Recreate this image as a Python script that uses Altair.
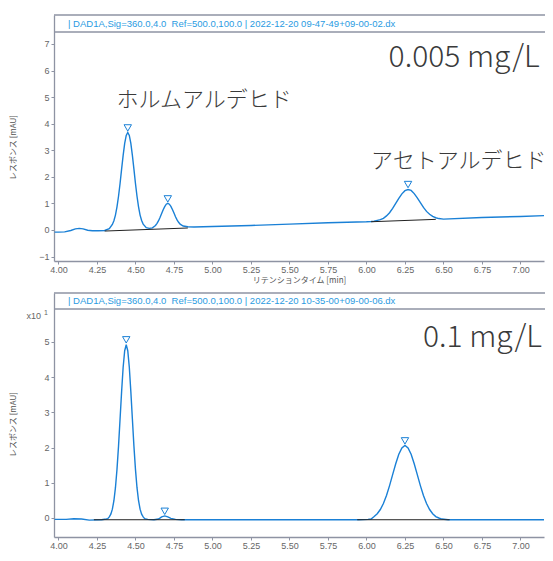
import altair as alt
import pandas as pd

# ---------------- data ----------------
top_t = [3.975, 4.00, 4.04, 4.08, 4.11, 4.135, 4.16, 4.19, 4.22, 4.26, 4.30,
         4.33, 4.35, 4.36, 4.37, 4.38, 4.39, 4.40, 4.41, 4.42, 4.43, 4.44, 4.45,
         4.46, 4.47, 4.48, 4.49, 4.50, 4.51, 4.52, 4.53, 4.54, 4.55, 4.57, 4.59,
         4.61, 4.63, 4.64, 4.65, 4.66, 4.67, 4.68, 4.69, 4.70, 4.71, 4.72, 4.73,
         4.74, 4.75, 4.76, 4.77, 4.78, 4.79, 4.81, 4.84, 4.88, 5.00, 5.25, 5.50,
         5.75, 6.00, 6.03, 6.05, 6.07, 6.09, 6.11, 6.13, 6.15, 6.17, 6.19, 6.21,
         6.23, 6.25, 6.27, 6.29, 6.31, 6.33, 6.35, 6.37, 6.39, 6.41, 6.43, 6.45,
         6.47, 6.50, 6.75, 7.00, 7.20]
top_v = [-0.08, -0.08, -0.07, -0.02, 0.04, 0.06, 0.04, -0.01, -0.03, -0.03, -0.02,
         0.05, 0.21, 0.35, 0.56, 0.87, 1.27, 1.75, 2.29, 2.81, 3.26, 3.56, 3.67,
         3.56, 3.26, 2.81, 2.29, 1.75, 1.27, 0.87, 0.56, 0.36, 0.22, 0.09, 0.06,
         0.08, 0.17, 0.25, 0.35, 0.48, 0.62, 0.76, 0.88, 0.97, 1.00, 0.97, 0.89,
         0.77, 0.64, 0.50, 0.38, 0.29, 0.22, 0.15, 0.12, 0.11, 0.13, 0.17, 0.22,
         0.27, 0.31, 0.32, 0.33, 0.36, 0.39, 0.44, 0.53, 0.65, 0.81, 1.00, 1.19,
         1.36, 1.48, 1.52, 1.49, 1.37, 1.21, 1.03, 0.85, 0.70, 0.59, 0.51, 0.46,
         0.43, 0.41, 0.47, 0.51, 0.55]

bot_t = [3.975, 4.05, 4.10, 4.15, 4.20, 4.28, 4.31, 4.32, 4.33, 4.34, 4.35, 4.36,
         4.37, 4.38, 4.39, 4.40, 4.41, 4.42, 4.43, 4.44, 4.45, 4.46, 4.47, 4.48,
         4.49, 4.50, 4.51, 4.52, 4.53, 4.54, 4.55, 4.56, 4.58, 4.62, 4.65, 4.67,
         4.69, 4.71, 4.73, 4.76, 4.80, 5.00, 5.50, 5.80, 5.95, 6.01, 6.03, 6.05,
         6.07, 6.09, 6.11, 6.13, 6.15, 6.17, 6.19, 6.21, 6.23, 6.25, 6.27, 6.29,
         6.31, 6.33, 6.35, 6.37, 6.39, 6.41, 6.43, 6.45, 6.47, 6.49, 6.53, 7.20]
bot_v = [-0.04, -0.04, -0.02, -0.03, -0.06, -0.05, -0.03, -0.02, 0.03, 0.11, 0.25, 0.49,
         0.86, 1.38, 2.04, 2.81, 3.59, 4.28, 4.75, 4.92, 4.75, 4.28, 3.59, 2.81,
         2.04, 1.38, 0.86, 0.49, 0.25, 0.11, 0.03, -0.02, -0.04, -0.05, -0.03, 0.03,
         0.06, 0.03, -0.01, -0.04, -0.05, -0.05, -0.05, -0.05, -0.05, -0.04, -0.03, 0.04,
         0.12, 0.24, 0.41, 0.64, 0.92, 1.23, 1.54, 1.81, 1.99, 2.06, 1.99, 1.81,
         1.54, 1.23, 0.92, 0.64, 0.41, 0.24, 0.12, 0.04, 0.00, -0.03, -0.05, -0.05]

# peak markers (time, response)
top_mk_t = [4.45, 4.71, 6.27]
top_mk_v = [3.84, 1.17, 1.71]
bot_mk_t = [4.44, 4.69, 6.25]
bot_mk_v = [5.06, 0.19, 2.19]

# integration baselines (t1, v1, t2, v2)
top_bl = [(4.30, -0.04, 4.84, 0.075), (6.03, 0.31, 6.45, 0.40)]
bot_bl = [(4.23, -0.05, 4.82, -0.05), (5.94, -0.05, 6.54, -0.05)]

x_ticks = [4.00, 4.25, 4.50, 4.75, 5.00, 5.25, 5.50, 5.75, 6.00, 6.25, 6.50, 6.75, 7.00]
top_y_ticks = [-1, 0, 1, 2, 3, 4, 5, 6, 7]
bot_y_ticks = [0, 1, 2, 3, 4, 5]

top_header = "| DAD1A,Sig=360.0,4.0\u00a0 Ref=500.0,100.0 | 2022-12-20 09-47-49+09-00-02.dx"
bot_header = "| DAD1A,Sig=360.0,4.0\u00a0 Ref=500.0,100.0 | 2022-12-20 10-35-00+09-00-06.dx"

# annotation texts (label, time, response, align, size)
top_notes = [("0.005 mg/L", 7.125, 6.47, "right", 30),
             ("ホルムアルデヒド", 4.377, 4.89, "left", 22),
             ("アセトアルデヒド", 6.03, 2.60, "left", 22)]
bot_notes = [("0.1 mg/L", 7.14, 5.11, "right", 30)]

W = 490
X_DOMAIN = [3.971, 3.971 + W / 154.0]
TOP_Y_DOMAIN = [-1.167, 8.09]
BOT_Y_DOMAIN = [-0.54, 6.39]

BLUE = "#1a80d6"
HEAD_BLUE = "#2a9be2"
FRAME = "#8e93a3"


def panel(t, v, mk_t, mk_v, bl, yticks, ydom, height, header, header_h, notes, xscale_note=False):
    df = pd.DataFrame({"t": t, "v": v})
    xs = alt.Scale(domain=X_DOMAIN, nice=False, zero=False)
    ys = alt.Scale(domain=ydom, nice=False, zero=False)
    xax = alt.Axis(values=x_ticks, tickCount=30, format=".2f",
                   title="リテンションタイム  [min]",
                   labelFlush=False, labelOverlap=False, tickSize=3, labelPadding=1,
                   titlePadding=2)
    yax = alt.Axis(values=yticks, tickCount=30, format="d", title="レスポンス [mAU]",
                   tickSize=3, labelPadding=2, labelOverlap=False, labelFlush=False,
                   titleX=-41, titleY=height / 2 + 9,
                   titleAngle=270, titleAlign="center", titleBaseline="middle")
    line = alt.Chart(df).mark_line(color=BLUE, strokeWidth=1.4, clip=True).encode(
        x=alt.X("t:Q", scale=xs, axis=xax),
        y=alt.Y("v:Q", scale=ys, axis=yax),
    )
    bdf = pd.DataFrame(bl, columns=["t1", "v1", "t2", "v2"])
    base = alt.Chart(bdf).mark_rule(color="#222222", strokeWidth=1).encode(
        x=alt.X("t1:Q", scale=xs, axis=xax), y=alt.Y("v1:Q", scale=ys, axis=yax),
        x2="t2:Q", y2="v2:Q")
    mdf = pd.DataFrame({"t": mk_t, "v": mk_v})
    marks = alt.Chart(mdf).mark_point(shape="triangle-down", filled=False, color=BLUE,
                                      size=55, strokeWidth=1, opacity=1).encode(
        x=alt.X("t:Q", scale=xs, axis=xax), y=alt.Y("v:Q", scale=ys, axis=yax))
    one = pd.DataFrame({"k": [0]})
    rule_top = alt.Chart(one).mark_rule(color=FRAME, strokeWidth=1.6).encode(
        x=alt.value(0), x2=alt.value(W + 20), y=alt.value(0))
    rule_head = alt.Chart(one).mark_rule(color=FRAME, strokeWidth=1.6).encode(
        x=alt.value(0), x2=alt.value(W + 20), y=alt.value(header_h))
    head = alt.Chart(pd.DataFrame({"s": [header]})).mark_text(
        align="left", baseline="middle", font="Liberation Sans", fontSize=9.5,
        color=HEAD_BLUE).encode(x=alt.value(14), y=alt.value(header_h / 2), text="s:N")
    layers = [rule_top, rule_head, head, line, base, marks]
    for (s, nt, nv, al, fs) in notes:
        ndf = pd.DataFrame({"s": [s], "t": [nt], "v": [nv]})
        layers.append(alt.Chart(ndf).mark_text(
            align=al, baseline="middle", font="Noto Sans CJK JP", fontSize=fs,
            fontWeight=300, color="#3a3a3a").encode(
            x=alt.X("t:Q", scale=xs, axis=xax), y=alt.Y("v:Q", scale=ys, axis=yax),
            text="s:N"))
    if xscale_note:
        sdf = pd.DataFrame({"s": ["x10"]})
        layers.append(alt.Chart(sdf).mark_text(
            align="right", baseline="middle", font="Liberation Sans", fontSize=9,
            color="#666666").encode(x=alt.value(-13), y=alt.value(23), text="s:N"))
        sdf2 = pd.DataFrame({"s": ["1"]})
        layers.append(alt.Chart(sdf2).mark_text(
            align="left", baseline="middle", font="Liberation Sans", fontSize=7,
            color="#666666").encode(x=alt.value(-10), y=alt.value(20), text="s:N"))
    return alt.layer(*layers).properties(width=W, height=height)


top = panel(top_t, top_v, top_mk_t, top_mk_v, top_bl, top_y_ticks, TOP_Y_DOMAIN, 246,
            top_header, 17, top_notes)
bot = panel(bot_t, bot_v, bot_mk_t, bot_mk_v, bot_bl, bot_y_ticks, BOT_Y_DOMAIN, 244,
            bot_header, 16, bot_notes, xscale_note=True)

chart = alt.vconcat(top, bot, spacing=8).properties(
    padding={"left": 1, "top": 6, "right": -20, "bottom": -8},
    background="white",
).configure_view(stroke=None).configure_axis(
    domainColor=FRAME, tickColor=FRAME, labelColor="#666666", titleColor="#555555",
    grid=False, labelFont="Liberation Sans", labelFontSize=9, labelOverlap=False,
    titleFont="Noto Sans CJK JP", titleFontSize=8, titleFontWeight="normal",
    domainWidth=1.3,
)

chart.save("out.html", embed_options={"renderer": "svg", "actions": False})
